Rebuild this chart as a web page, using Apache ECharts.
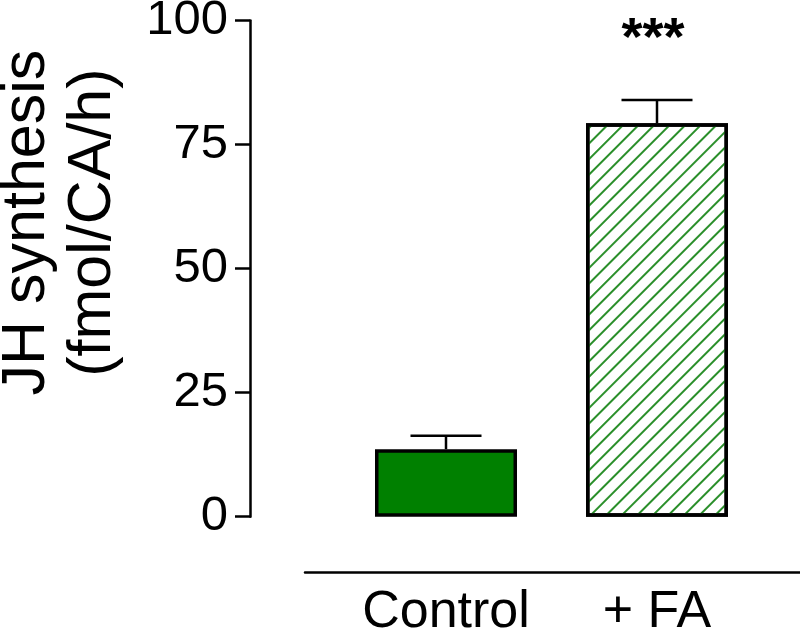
<!DOCTYPE html>
<html>
<head>
<meta charset="utf-8">
<script src="https://cdn.jsdelivr.net/npm/echarts@6/dist/echarts.min.js"></script>
<style>
  html, body { margin: 0; padding: 0; background: #fff; }
  #main { width: 800px; height: 638px; }
</style>
</head>
<body>
<div id="main"></div>
<script>
// data
const categories = ["Control", "+ FA"];
const means = [13.6, 79.3];
const sems = [2.7, 4.7];
const sigLabels = ["", "***"];
const yTicks = [0, 25, 50, 75, 100];

const FONT = "Liberation Sans, Arial, sans-serif";
const chart = echarts.init(document.getElementById("main"), null, { renderer: "canvas" });

const option = {
  backgroundColor: "#fff",
  animation: false,
  grid: [
    { left: 340.5, width: 422, top: 20.5, height: 496.2, outerBoundsMode: "none", containLabel: false },
    // bottom line under the bars
    { left: 305, right: 0, top: 560, height: 12, outerBoundsMode: "none", containLabel: false }
  ],
  xAxis: [
    {
      type: "category",
      gridIndex: 0,
      data: categories,
      axisLine: { show: false },
      axisTick: { show: false },
      axisLabel: { color: "#000", fontSize: 52, fontFamily: FONT, margin: 70, interval: 0, hideOverlap: false }
    },
    {
      type: "value",
      gridIndex: 1,
      min: 0,
      max: 1,
      axisLine: { show: true, lineStyle: { color: "#000", width: 2.5 } },
      axisTick: { show: false },
      axisLabel: { show: false },
      splitLine: { show: false }
    }
  ],
  yAxis: [
    {
      type: "value",
      gridIndex: 0,
      min: yTicks[0],
      max: yTicks[yTicks.length - 1],
      interval: 25,
      offset: 90.5,
      name: "JH synthesis\n(fmol/CA/h)",
      nameLocation: "middle",
      nameRotate: 90,
      nameGap: 124,
      nameTextStyle: { color: "#000", fontSize: 61, lineHeight: 66, fontFamily: FONT, padding: [0, 0, 0, 92] },
      axisLine: { show: true, lineStyle: { color: "#000", width: 2.5 } },
      axisTick: { show: true, length: 15, lineStyle: { color: "#000", width: 2.5 } },
      axisLabel: { color: "#000", fontSize: 49, fontFamily: FONT, margin: 22 },
      splitLine: { show: false }
    },
    { type: "value", gridIndex: 1, show: false, min: 0, max: 1 }
  ],
  series: [
    {
      type: "bar",
      xAxisIndex: 0,
      yAxisIndex: 0,
      barWidth: 142,
      data: [
        { value: means[0], itemStyle: { color: "#008000" } },
        {
          value: means[1],
          itemStyle: {
            color: "#fff",
            decal: {
              symbol: "rect",
              symbolSize: 1,
              color: "#2a8f2a",
              dashArrayX: [1, 0],
              dashArrayY: [1.4, 8.3],
              rotation: -Math.PI / 4
            }
          }
        }
      ],
      itemStyle: { borderColor: "#000", borderWidth: 3.5 },
      z: 2
    },
    {
      // error bars + significance stars
      type: "custom",
      xAxisIndex: 0,
      yAxisIndex: 0,
      data: means.map((m, i) => [i, m, m + sems[i]]),
      renderItem: function (params, api) {
        const i = api.value(0);
        const base = api.coord([i, api.value(1)]);
        const top = api.coord([i, api.value(2)]);
        const half = 35.5;
        const children = [
          { type: "line", shape: { x1: base[0], y1: base[1], x2: top[0], y2: top[1] }, style: { stroke: "#000", lineWidth: 2.5 } },
          { type: "line", shape: { x1: top[0] - half, y1: top[1], x2: top[0] + half, y2: top[1] }, style: { stroke: "#000", lineWidth: 2.5 } }
        ];
        if (sigLabels[i]) {
          children.push({
            type: "text",
            style: {
              text: sigLabels[i],
              x: top[0] - 4,
              y: top[1] - 33,
              align: "center",
              verticalAlign: "bottom",
              fill: "#000",
              font: "bold 54px " + FONT
            }
          });
        }
        return { type: "group", children: children };
      },
      z: 3
    }
  ]
};

chart.setOption(option);
</script>
</body>
</html>
